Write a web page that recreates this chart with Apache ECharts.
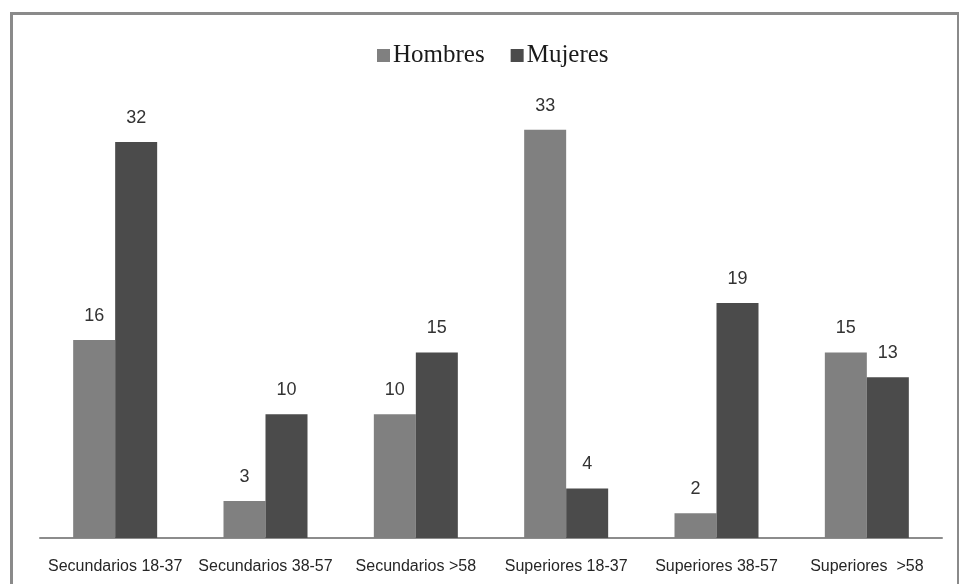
<!DOCTYPE html>
<html>
<head>
<meta charset="utf-8">
<script src="https://cdn.jsdelivr.net/npm/echarts@6/dist/echarts.min.js"></script>
<style>
	html, body { margin: 0; padding: 0; background: #fff; }
	#chart { width: 959px; height: 584px; }
</style>
</head>
<body>
<div id="chart"></div>
<script>
// data
const categories = [
	"Secundarios 18-37",
	"Secundarios 38-57",
	"Secundarios >58",
	"Superiores 18-37",
	"Superiores 38-57",
	"Superiores  >58"
];
const seriesNames = ["Hombres", "Mujeres"];
const hombres = [16, 3, 10, 33, 2, 15];
const mujeres = [32, 10, 15, 4, 19, 13];

let chart = echarts.init(document.getElementById("chart"));

let labelStyle = {
	show: true,
	position: "top",
	distance: 15,
	fontFamily: "Liberation Sans",
	fontSize: 18,
	color: "#333"
};

let option = {
	animation: false,
	backgroundColor: "#fff",
	graphic: [
		{
			type: "rect",
			shape: { x: 11.5, y: 13.5, width: 947, height: 620 },
			style: { fill: "none", stroke: "#8a8a8a", lineWidth: 3 },
			silent: true
		}
	],
	legend: {
		data: seriesNames,
		left: 372,
		top: 38,
		itemWidth: 13,
		itemHeight: 13,
		itemGap: 26,
		icon: "rect",
		textStyle: {
			fontFamily: "Liberation Serif",
			fontSize: 25,
			color: "#1a1a1a",
			padding: [0, 0, 0, -2]
		}
	},
	grid: {
		left: 40,
		right: 17,
		top: 105,
		bottom: 46
	},
	xAxis: {
		type: "category",
		data: categories,
		axisLine: { lineStyle: { color: "#8c8c8c", width: 2 } },
		axisTick: { show: false },
		axisLabel: {
			interval: 0,
			margin: 21,
			fontFamily: "Liberation Sans",
			fontSize: 16,
			color: "#262626"
		}
	},
	yAxis: {
		type: "value",
		min: 0,
		max: 35,
		show: false,
		splitLine: { show: false }
	},
	series: [
		{
			name: "Hombres",
			type: "bar",
			data: hombres,
			barWidth: 42,
			barGap: "0%",
			itemStyle: { color: "#808080" },
			label: labelStyle
		},
		{
			name: "Mujeres",
			type: "bar",
			data: mujeres,
			barWidth: 42,
			barGap: "0%",
			itemStyle: { color: "#4b4b4b" },
			label: labelStyle
		}
	]
};

chart.setOption(option);
</script>
</body>
</html>
